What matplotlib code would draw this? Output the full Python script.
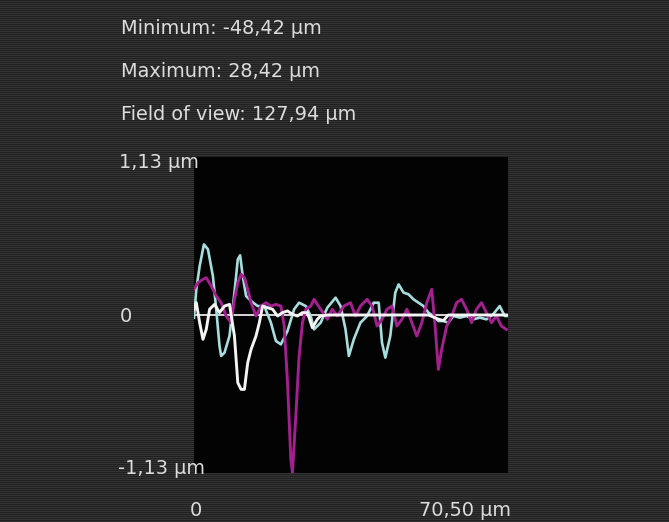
import numpy as np
import matplotlib
matplotlib.use("Agg")
import matplotlib.pyplot as plt

# ---- data (µm) ----
header_lines = ["Minimum: -48,42 µm", "Maximum: 28,42 µm", "Field of view: 127,94 µm"]
y_range = 1.13
x_max = 70.50
y_tick_labels = ["1,13 µm", "0", "-1,13 µm"]
x_tick_labels = ["0", "70,50 µm"]

cyan_x = [0, 0.52, 1.27, 2.23, 3.13, 4.24, 4.99, 5.73, 6.10, 6.85, 7.97, 9.08, 9.83, 10.35, 10.94,
          11.69, 12.81, 14.29, 15.78, 17.27, 18.39, 19.51, 21.00, 22.48, 23.60, 25.09, 26.21, 26.95,
          28.44, 29.93, 31.79, 32.91, 34.02, 34.77, 35.88, 37.37, 38.86, 40.35, 41.47, 42.21, 42.96,
          44.07, 45.19, 45.94, 47.05, 48.17, 49.29, 50.40, 51.52, 52.64, 53.75, 54.87, 55.99, 57.10,
          58.22, 59.71, 61.20, 62.69, 64.18, 65.67, 67.15, 68.64, 69.76, 70.50]
cyan_y = [-0.019, 0.184, 0.350, 0.505, 0.470, 0.279, 0.041, -0.222, -0.293, -0.269, -0.150, 0.160,
          0.398, 0.427, 0.279, 0.136, 0.100, 0.064, 0.064, -0.055, -0.186, -0.210, -0.114, 0.041,
          0.088, 0.064, -0.007, -0.103, -0.055, 0.052, 0.124, 0.064, -0.103, -0.293, -0.174, -0.055,
          -0.007, 0.088, 0.088, -0.198, -0.305, -0.150, 0.160, 0.219, 0.160, 0.148, 0.112, 0.088,
          0.064, 0.017, -0.007, -0.043, -0.043, -0.055, -0.007, -0.019, -0.007, -0.031, -0.019,
          -0.031, 0.005, 0.064, -0.007, -0.007]

magenta_x = [0, 0.89, 2.01, 2.75, 3.87, 4.99, 6.10, 7.22, 8.34, 9.08, 9.83, 10.57, 11.32, 12.06,
             12.81, 13.92, 15.04, 16.15, 17.27, 18.39, 19.51, 20.25, 21.00, 21.74, 22.11, 22.86,
             23.60, 24.35, 25.09, 26.21, 26.95, 28.44, 29.93, 31.05, 32.16, 33.65, 35.14, 36.26,
             37.37, 38.86, 39.98, 41.10, 42.21, 43.33, 44.45, 45.56, 46.68, 47.80, 48.91, 50.03,
             51.15, 52.26, 53.38, 54.13, 54.87, 55.61, 56.73, 57.85, 58.97, 60.08, 61.20, 62.32,
             63.43, 64.55, 65.67, 66.79, 67.90, 69.02, 70.13]
magenta_y = [0.184, 0.231, 0.255, 0.267, 0.207, 0.136, 0.088, -0.007, -0.055, 0.112, 0.231, 0.291,
             0.267, 0.184, 0.088, -0.007, 0.064, 0.088, 0.064, 0.076, 0.064, -0.079, -0.484, -1.032,
             -1.128, -0.722, -0.293, -0.055, 0.041, 0.064, 0.112, 0.041, -0.031, 0.041, -0.007,
             0.064, 0.088, -0.007, 0.064, 0.112, 0.064, -0.079, -0.031, 0.041, 0.064, -0.079, -0.031,
             0.041, -0.055, -0.150, -0.055, 0.088, 0.184, -0.079, -0.389, -0.246, -0.079, -0.007,
             0.088, 0.112, 0.041, -0.055, 0.041, 0.088, 0.017, -0.055, -0.007, -0.079, -0.103]

white_x = [0, 0.52, 1.27, 2.01, 2.75, 3.50, 4.62, 5.73, 6.85, 7.97, 9.08, 9.83, 10.57, 11.32, 12.06,
           12.81, 13.92, 14.67, 15.41, 16.53, 17.64, 18.76, 19.88, 21.00, 22.11, 23.23, 24.35,
           25.46, 26.58, 27.69, 28.44, 29.93, 52.64, 54.87, 55.99, 57.10, 70.50]
white_y = [0.041, 0.088, -0.055, -0.174, -0.103, 0.041, 0.076, 0.017, 0.064, 0.076, -0.150, -0.484,
           -0.532, -0.532, -0.341, -0.246, -0.150, -0.055, 0.064, 0.052, 0.041, -0.007, 0.017, 0.029,
           0.005, -0.007, 0.017, 0.017, -0.091, -0.031, -0.007, 0.0, 0.0, -0.03, -0.04, 0.0, 0.0]

# ---- figure ----
W, H = 669, 522
fig = plt.figure(figsize=(W / 100, H / 100), dpi=100)

# striped dark background
bg = fig.add_axes([0, 0, 1, 1], zorder=-5)
rows = np.array([[0.125], [0.21]] * (H // 2))
bg.imshow(rows, cmap="gray", vmin=0, vmax=1, aspect="auto", interpolation="nearest",
          extent=[0, 1, 0, 1])
bg.set_axis_off()

left, right, top, bottom = 194, 508, 157, 473
ax = fig.add_axes([left / W, (H - bottom) / H, (right - left) / W, (bottom - top) / H])
ax.set_facecolor("#030303")
for s in ax.spines.values():
    s.set_visible(False)
ax.set_xticks([])
ax.set_yticks([])
ax.set_xlim(0, x_max)
ax.set_ylim(-y_range, y_range)

ax.axhline(0, color="#e8e8e8", lw=1.3, zorder=2)
ax.plot(cyan_x, cyan_y, color="#a6dede", lw=1.9, zorder=3)
ax.plot(magenta_x, magenta_y, color="#a3208f", lw=2.1, zorder=4)
ax.plot(white_x, white_y, color="#f4f4f4", lw=2.1, zorder=5)

tc = "#dcdcdc"
fs = 13.9
for i, line in enumerate(header_lines):
    fig.text(121 / W, 1 - (28 + 43.5 * i) / H, line, color=tc, fontsize=fs, ha="left", va="center")

fig.text(119 / W, 1 - 163 / H, y_tick_labels[0], color=tc, fontsize=fs, ha="left", va="center")
fig.text(120 / W, 1 - 316 / H, y_tick_labels[1], color=tc, fontsize=fs, ha="left", va="center")
fig.text(118 / W, 1 - 469 / H, y_tick_labels[2], color=tc, fontsize=fs, ha="left", va="center")
fig.text(196 / W, 1 - 510 / H, x_tick_labels[0], color=tc, fontsize=fs, ha="center", va="center")
fig.text(511 / W, 1 - 510 / H, x_tick_labels[1], color=tc, fontsize=fs, ha="right", va="center")

fig.savefig("out.png", dpi=100)
